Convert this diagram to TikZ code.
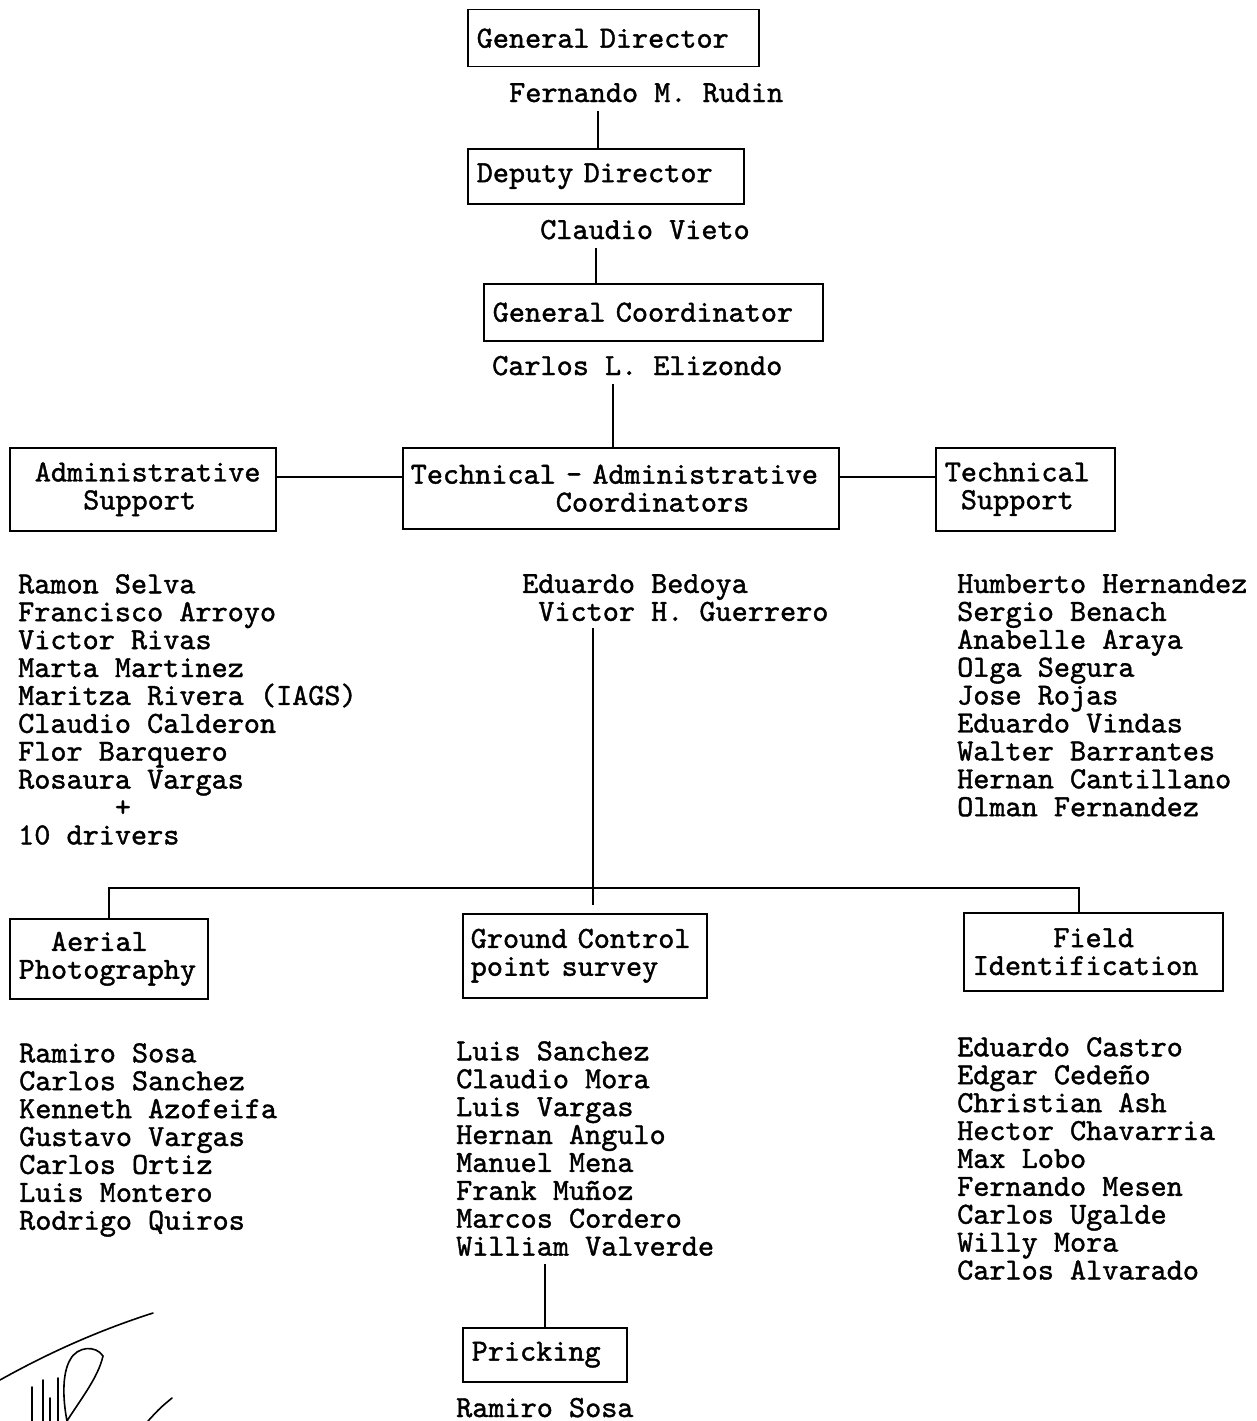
\documentclass[tikz,border=0pt]{standalone}
\usepackage{fontspec}
\newfontfamily\orgfont{lmmono10-regular.otf}[FakeBold=1.3]
\begin{document}
\begin{tikzpicture}[x=1pt,y=-1pt,
        font=\orgfont\fontsize{30.7}{27.9}\selectfont,
        unit/.style={draw, line width=1.5pt, anchor=north west, align=left,
            inner xsep=9pt, inner ysep=2pt},
        chief/.style={anchor=base west, inner xsep=0pt, inner ysep=8pt},
        staff/.style={anchor=north west, align=left, inner sep=0pt},
        link/.style={line width=1.6pt},
        ink/.style={line width=1.6pt, line cap=round}]
    \useasboundingbox (0,0) rectangle (1256,1421);
    % directors
    \node[unit, text width=273pt, minimum height=57pt] (gdir) at (467,9) {General Director};
    \node[chief] (gdirname) at (509,102) {Fernando M. Rudin};
    \node[unit, text width=258pt, minimum height=55pt] (ddir) at (467,148) {Deputy Director};
    \node[chief] (ddirname) at (540,239) {Claudio Vieto};
    \node[unit, text width=321pt, minimum height=57pt] (gcoord) at (483,283) {General Coordinator};
    \node[chief] (gcoordname) at (492,375) {Carlos L. Elizondo};
    % coordination row
    \node[unit, text width=248pt, minimum height=83pt] (admsup) at (9,447)
        {\hphantom{0}Administrative\\\hphantom{0000}Support};
    \node[unit, text width=420pt, minimum height=81pt, inner xsep=8pt] (tac) at (402,447)
        {Technical - Administrative\\\hphantom{Technical}Coordinators};
    \node[unit, text width=161pt, minimum height=83pt] (techsup) at (935,447)
        {Technical\\\hphantom{0}Support};
    \node[staff] (admlist) at (18,574) {Ramon Selva\\Francisco Arroyo\\Victor Rivas\\Marta Martinez\\
        Maritza Rivera (IAGS)\\Claudio Calderon\\Flor Barquero\\Rosaura Vargas\\\hphantom{000000}+\\10 drivers};
    \node[staff] (midlist) at (522,574) {Eduardo Bedoya\\\hphantom{0}Victor H. Guerrero};
    \node[staff] (techlist) at (957,574) {Humberto Hernandez\\Sergio Benach\\Anabelle Araya\\Olga Segura\\
        Jose Rojas\\Eduardo Vindas\\Walter Barrantes\\Hernan Cantillano\\Olman Fernandez};
    % field units
    \node[unit, text width=180pt, minimum height=80pt] (aerial) at (9,918)
        {\hphantom{00}Aerial\\Photography};
    \node[unit, text width=228pt, minimum height=84pt, inner xsep=8pt] (gcp) at (462,913)
        {Ground Control\\point survey};
    \node[unit, text width=241pt, minimum height=78pt] (fieldid) at (963,912)
        {\hphantom{00000}Field\\Identification};
    \node[staff] (aeriallist) at (19,1043) {Ramiro Sosa\\Carlos Sanchez\\Kenneth Azofeifa\\Gustavo Vargas\\
        Carlos Ortiz\\Luis Montero\\Rodrigo Quiros};
    \node[staff] (gcplist) at (456,1041) {Luis Sanchez\\Claudio Mora\\Luis Vargas\\Hernan Angulo\\
        Manuel Mena\\Frank Muñoz\\Marcos Cordero\\William Valverde};
    \node[staff] (fieldlist) at (957,1037) {Eduardo Castro\\Edgar Cedeño\\Christian Ash\\Hector Chavarria\\
        Max Lobo\\Fernando Mesen\\Carlos Ugalde\\Willy Mora\\Carlos Alvarado};
    \node[unit, text width=146pt, minimum height=54pt] (prick) at (462,1327) {Pricking};
    \node[chief] (prickname) at (456,1417) {Ramiro Sosa};
    % connectors
    \draw[link] ([xshift=-8pt]ddir.north) -- ([xshift=-8pt]ddir.north |- gdirname.south);
    \draw[link] ([xshift=-57pt]gcoord.north) -- ([xshift=-57pt]gcoord.north |- ddirname.south);
    \draw[link] ([xshift=-8pt]tac.north) -- ([xshift=-8pt]tac.north |- gcoordname.south);
    \draw[link] ([yshift=12.5pt]admsup.east) -- ([yshift=12.5pt]admsup.east -| tac.west);
    \draw[link] ([yshift=11.5pt]tac.east) -- ([yshift=11.5pt]tac.east -| techsup.west);
    \coordinate (trunktop) at (593,628);
    \coordinate (trunkend) at (593,905);
    \coordinate (bar) at (593,888);
    \draw[link] (trunktop) -- (trunkend);
    \draw[link] (aerial.north) |- (bar) -| ([xshift=-14.5pt]fieldid.north);
    \draw[link] (prick.north) -- ([yshift=-8pt]prick.north |- gcplist.south);
    % signature
    \draw[ink] (0,1380) .. controls (50,1352) and (100,1330) .. (153,1313);
    \draw[ink] (67,1421) .. controls (62,1395) and (63,1372) .. (70,1360)
        .. controls (77,1346) and (96,1345) .. (103,1356)
        .. controls (98,1378) and (80,1400) .. (67,1421);
    \foreach \sx/\sy in {32/1387, 43/1380, 50/1398, 58/1378}
        \draw[ink] (\sx,\sy) -- (\sx,1421);
    \draw[ink] (172,1398) .. controls (160,1408) .. (148,1421);
\end{tikzpicture}
\end{document}
